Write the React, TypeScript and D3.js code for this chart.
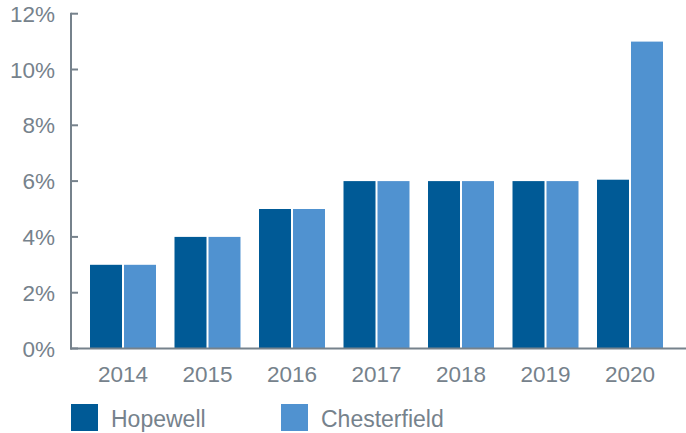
import React, { useEffect, useRef } from 'react';
import * as d3 from 'd3';

const years = ['2014', '2015', '2016', '2017', '2018', '2019', '2020'];
const seriesNames = ['Hopewell', 'Chesterfield'];
const hopewell = [3, 4, 5, 6, 6, 6, 6.05];
const chesterfield = [3, 4, 5, 6, 6, 6, 11];
const yTicks = [0, 2, 4, 6, 8, 10, 12];
const colors = ['#005a96', '#5092d0'];

function App() {
  const svgRef = useRef<SVGSVGElement>(null);

  useEffect(() => {
    const svg = d3.select(svgRef.current);
    svg.selectAll('*').remove();
    const font = 'Liberation Sans, Arial, sans-serif';
    const grey = '#76828c';

    const x0 = d3.scaleBand().domain(years).range([70, 683]).paddingInner(0.219).paddingOuter(0.2367);
    const x1 = d3.scaleBand().domain(seriesNames).range([0, x0.bandwidth()]).paddingInner(2 / 34);
    const y = d3.scaleLinear().domain([0, 12]).range([348.5, 13.7]);

    const rows = years.map((yr, i) => ({ year: yr, values: [hopewell[i], chesterfield[i]] }));

    // bars
    svg
      .append('g')
      .selectAll('g')
      .data(rows)
      .enter()
      .append('g')
      .attr('transform', (d) => 'translate(' + x0(d.year) + ',0)')
      .selectAll('rect')
      .data((d) => d.values.map((v, j) => ({ name: seriesNames[j], v, j })))
      .enter()
      .append('rect')
      .attr('x', (d) => x1(d.name)!)
      .attr('y', (d) => y(d.v))
      .attr('width', x1.bandwidth())
      .attr('height', (d) => y(0) - y(d.v))
      .style('fill', (d) => colors[d.j]);

    // y axis
    const yAxis = svg.append('g');
    yAxis
      .append('line')
      .attr('x1', 71)
      .attr('x2', 71)
      .attr('y1', y(12) - 1)
      .attr('y2', y(0) + 1)
      .attr('stroke', grey)
      .attr('stroke-width', 2);
    yAxis
      .selectAll('line.tick')
      .data(yTicks)
      .enter()
      .append('line')
      .attr('class', 'tick')
      .attr('x1', 71)
      .attr('x2', 78)
      .attr('y1', (d) => y(d))
      .attr('y2', (d) => y(d))
      .attr('stroke', grey)
      .attr('stroke-width', 2);
    yAxis
      .selectAll('text')
      .data(yTicks)
      .enter()
      .append('text')
      .attr('x', 55)
      .attr('y', (d) => y(d))
      .attr('dy', '0.36em')
      .attr('text-anchor', 'end')
      .style('font-family', font)
      .style('font-size', '22.5px')
      .style('fill', grey)
      .text((d) => d + '%');

    // x axis
    svg
      .append('line')
      .attr('x1', 70)
      .attr('x2', 686)
      .attr('y1', y(0))
      .attr('y2', y(0))
      .attr('stroke', grey)
      .attr('stroke-width', 2);
    svg
      .append('g')
      .selectAll('text')
      .data(years)
      .enter()
      .append('text')
      .attr('x', (d) => x0(d)! + x0.bandwidth() / 2)
      .attr('y', 382)
      .attr('text-anchor', 'middle')
      .style('font-family', font)
      .style('font-size', '22.5px')
      .style('fill', grey)
      .text((d) => d);

    // legend
    const legendX = [71, 281];
    const legend = svg
      .append('g')
      .selectAll('g')
      .data(seriesNames)
      .enter()
      .append('g')
      .attr('transform', (d, i) => 'translate(' + legendX[i] + ',404)');
    legend
      .append('rect')
      .attr('width', 27)
      .attr('height', 27)
      .style('fill', (d, i) => colors[i]);
    legend
      .append('text')
      .attr('x', 40)
      .attr('y', 22.5)
      .style('font-family', font)
      .style('font-size', '23px')
      .style('fill', grey)
      .text((d) => d);
  }, []);

  return (
    <div style={{ position: 'fixed', left: 0, top: 0, width: 686, height: 433, background: '#fff' }}>
      <svg ref={svgRef} width={686} height={433} style={{ display: 'block' }}></svg>
    </div>
  );
}

export default App;
